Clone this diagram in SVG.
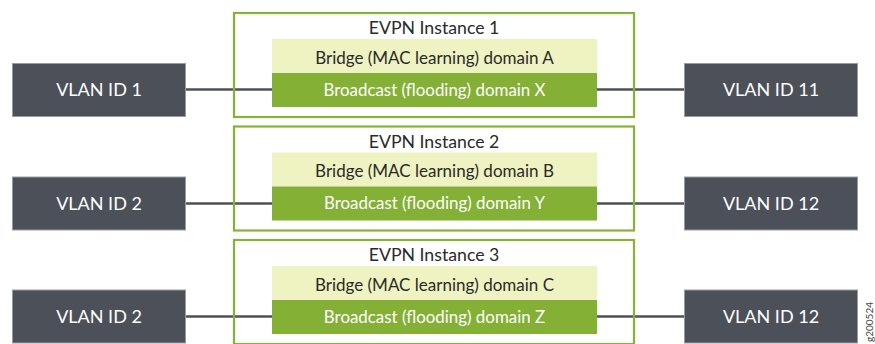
<svg xmlns="http://www.w3.org/2000/svg" width="875" height="344" viewBox="0 0 875 344">
<style>
text{font-family:Lato,"Open Sans","Liberation Sans",sans-serif;text-anchor:middle}
.vlan rect{fill:#4c5059;stroke:#9a9ca2;stroke-width:1}
.vlan text{fill:#ffffff;font-size:18px}
.inst{fill:none;stroke:#86b23a;stroke-width:2.2}
.title{fill:#2a2a2a;font-size:17.7px}
.bridge{fill:#eef3c1}
.bcast{fill:#84b035}
.bt{fill:#2a2a2a;font-size:17px}
.ct{fill:#ffffff;font-size:16.9px}
.conn line{stroke:#4c5059;stroke-width:2.5}
.fig{font-size:10px;fill:#444;text-anchor:start}
</style>
<g id="connectors" class="conn">
<line x1="186" y1="89.5" x2="272" y2="89.5"/>
<line x1="597" y1="89.5" x2="684" y2="89.5"/>
<line x1="186" y1="203.5" x2="272" y2="203.5"/>
<line x1="597" y1="203.5" x2="684" y2="203.5"/>
<line x1="186" y1="316.5" x2="272" y2="316.5"/>
<line x1="597" y1="316.5" x2="684" y2="316.5"/>
</g>
<g id="evpn1">
<rect class="inst" x="234" y="13" width="400" height="104"/>
<text class="title" x="434" y="34">EVPN Instance 1</text>
<g id="bridgeA"><rect class="bridge" x="272" y="39" width="325" height="34"/><text class="bt" x="434.5" y="63.5">Bridge (MAC learning) domain A</text></g>
<g id="bcastX"><rect class="bcast" x="272" y="73" width="325" height="34"/><text class="ct" x="434.5" y="95.5">Broadcast (flooding) domain X</text></g>
</g>
<g id="evpn2" transform="translate(0,113.5)">
<rect class="inst" x="234" y="13" width="400" height="104"/>
<text class="title" x="434" y="34">EVPN Instance 2</text>
<g id="bridgeB"><rect class="bridge" x="272" y="39" width="325" height="34"/><text class="bt" x="434.5" y="63.5">Bridge (MAC learning) domain B</text></g>
<g id="bcastY"><rect class="bcast" x="272" y="73" width="325" height="34"/><text class="ct" x="434.5" y="95.5">Broadcast (flooding) domain Y</text></g>
</g>
<g id="evpn3" transform="translate(0,227)">
<rect class="inst" x="234" y="13" width="400" height="104"/>
<text class="title" x="434" y="34">EVPN Instance 3</text>
<g id="bridgeC"><rect class="bridge" x="272" y="39" width="325" height="34"/><text class="bt" x="434.5" y="63.5">Bridge (MAC learning) domain C</text></g>
<g id="bcastZ"><rect class="bcast" x="272" y="73" width="325" height="34"/><text class="ct" x="434.5" y="95.5">Broadcast (flooding) domain Z</text></g>
</g>
<g id="vlan1" class="vlan"><rect x="12.5" y="63.5" width="173" height="53"/><text x="99" y="96">VLAN ID 1</text></g>
<g id="vlan11" class="vlan"><rect x="684.5" y="63.5" width="173" height="53"/><text x="771" y="96">VLAN ID 11</text></g>
<g id="vlan2" class="vlan"><rect x="12.5" y="177" width="173" height="53"/><text x="99" y="209.5">VLAN ID 2</text></g>
<g id="vlan12a" class="vlan"><rect x="684.5" y="177" width="173" height="53"/><text x="771" y="209.5">VLAN ID 12</text></g>
<g id="vlan2b" class="vlan"><rect x="12.5" y="290" width="173" height="53"/><text x="99" y="323">VLAN ID 2</text></g>
<g id="vlan12b" class="vlan"><rect x="684.5" y="290" width="173" height="53"/><text x="771" y="323">VLAN ID 12</text></g>
<text class="fig" transform="translate(873,342) rotate(-90)">g200524</text>
</svg>
